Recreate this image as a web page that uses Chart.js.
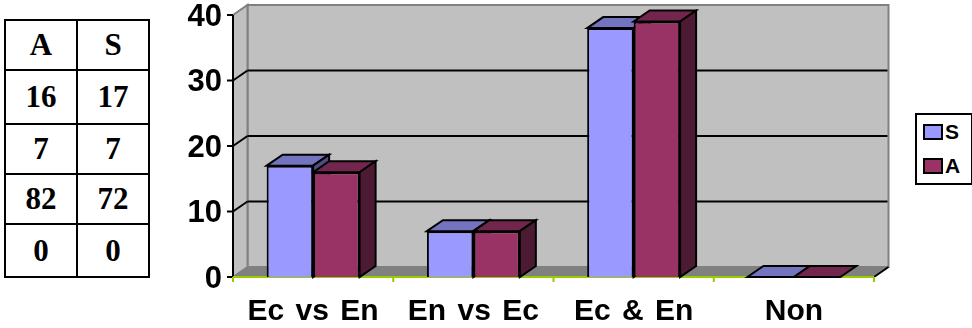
<!DOCTYPE html>
<html>
<head>
<meta charset="utf-8">
<title>Ec / En</title>
<script src="https://cdn.jsdelivr.net/npm/chart.js@4/dist/chart.umd.min.js"></script>
<style>
    html, body { margin: 0; padding: 0; background: #fff; }
    #wrap { position: relative; width: 972px; height: 328px; overflow: hidden; }
    #chart { position: absolute; left: 0; top: 0; }

    #counts {
        position: absolute; left: 4px; top: 19px; width: 146px; height: 259px;
        border-collapse: collapse; table-layout: fixed;
        font: bold 31px "Liberation Serif", serif; text-align: center;
    }
    #counts td { border: 2px solid #000; padding: 0; }

    #legend {
        position: absolute; left: 915px; top: 113px; width: 54px; height: 68px;
        border: 2px solid #000; background: #fff;
        font: bold 21px "Liberation Sans", sans-serif;
    }
    #legend div { position: absolute; left: 6px; height: 24px; line-height: 21px; padding-left: 22px; }
    #legend i { position: absolute; left: 0; top: 3px; width: 16px; height: 12px; border: 2px solid #000; }
</style>
</head>
<body>
<div id="wrap">
    <table id="counts"></table>
    <canvas id="chart" width="972" height="328"></canvas>
    <div id="legend"></div>
</div>
<script>
const categories = ['Ec vs En', 'En vs Ec', 'Ec & En', 'Non'];
const seriesS = [17, 7, 38, 0];
const seriesA = [16, 7, 39, 0];

const tableHead = ['A', 'S'];
const tableA = [16, 7, 82, 0];
const tableS = [17, 7, 72, 0];

const FONT = '"Liberation Sans", sans-serif';

// how far the back wall and the bar tops are pushed away from the front plane
const WALL_DX = 14.5, WALL_DY = 10;
const BAR_DX = 16, BAR_DY = 11;

const faces = [
    { front: '#9999ff', top: '#7373bf', side: '#4d4d80' },
    { front: '#993366', top: '#73264d', side: '#4c1a33' }
];

function poly(ctx, pts, fill, stroke, lw) {
    ctx.beginPath();
    pts.forEach((p, i) => i ? ctx.lineTo(p[0], p[1]) : ctx.moveTo(p[0], p[1]));
    ctx.closePath();
    if (fill) { ctx.fillStyle = fill; ctx.fill(); }
    if (stroke) { ctx.strokeStyle = stroke; ctx.lineWidth = lw || 2; ctx.stroke(); }
}

function line(ctx, x1, y1, x2, y2, color, lw) {
    ctx.beginPath();
    ctx.moveTo(x1, y1);
    ctx.lineTo(x2, y2);
    ctx.strokeStyle = color;
    ctx.lineWidth = lw || 2;
    ctx.stroke();
}

// walls, floor, gridlines and the depth faces of the bars
const box3d = {
    id: 'box3d',
    beforeDraw(chart) {
        // wider gaps between the words of the category labels
        chart.ctx.wordSpacing = '3px';
    },
    beforeDatasetsDraw(chart) {
        const ctx = chart.ctx;
        const { left, right, top, bottom } = chart.chartArea;
        const y = chart.scales.y;
        const dx = WALL_DX, dy = WALL_DY;

        ctx.save();
        ctx.lineJoin = 'miter';

        poly(ctx, [[left + dx, top - dy], [right + dx, top - dy], [right + dx, bottom - dy], [left + dx, bottom - dy]], '#c0c0c0', '#808080', 2);
        poly(ctx, [[left, top], [left + dx, top - dy], [left + dx, bottom - dy], [left, bottom]], '#c0c0c0', '#808080', 2);
        poly(ctx, [[left, bottom], [left + dx, bottom - dy], [right + dx, bottom - dy], [right, bottom]], '#808080');

        y.ticks.forEach(t => {
            const py = y.getPixelForValue(t.value);
            if (t.value > y.min && t.value < y.max) {
                line(ctx, left, py, left + dx, py - dy, '#000');
                line(ctx, left + dx, py - dy, right + dx - 1, py - dy, '#000');
            }
            line(ctx, left - 6, py, left, py, '#000');
        });

        line(ctx, right, bottom, right + dx, bottom - dy, '#000');
        line(ctx, left, top, left, bottom, '#000');

        // category axis with its marks between the groups
        line(ctx, left, bottom, right, bottom, '#99cc00');
        for (let i = 0; i <= categories.length; i++) {
            const px = left + (right - left) * i / categories.length;
            line(ctx, px, bottom, px, bottom + 5, '#99cc00');
        }

        chart.data.datasets.forEach((ds, d) => {
            chart.getDatasetMeta(d).data.forEach(bar => {
                const l = bar.x - bar.width / 2, r = bar.x + bar.width / 2;
                const t = bar.y, b = bar.base;
                poly(ctx, [[l, t], [l + BAR_DX, t - BAR_DY], [r + BAR_DX, t - BAR_DY], [r, t]], faces[d].top, '#000', 2);
                if (b - t > 0) {
                    poly(ctx, [[r, t], [r + BAR_DX, t - BAR_DY], [r + BAR_DX, b - BAR_DY], [r, b]], faces[d].side, '#000', 2);
                }
            });
        });
        ctx.restore();
    }
};

const chart = new Chart(document.getElementById('chart'), {
    type: 'bar',
    data: {
        labels: categories,
        datasets: [
            { label: 'S', data: seriesS, backgroundColor: faces[0].front, borderColor: '#000', borderWidth: 2 },
            { label: 'A', data: seriesA, backgroundColor: faces[1].front, borderColor: '#000', borderWidth: 2 }
        ]
    },
    options: {
        responsive: false,
        animation: false,
        layout: { padding: { left: 0, right: 98, top: 15, bottom: 0 } },
        datasets: { bar: { categoryPercentage: 0.58, barPercentage: 1 } },
        plugins: { legend: { display: false }, tooltip: { enabled: false } },
        scales: {
            x: {
                grid: { display: false, drawTicks: false },
                border: { display: false },
                ticks: { color: '#000', padding: 17, maxRotation: 0, autoSkip: false, font: { family: FONT, weight: 'bold', size: 30 } },
                afterFit: s => { s.height = 51; s.paddingLeft = 0; s.paddingRight = 0; }
            },
            y: {
                min: 0,
                max: 40,
                grid: { display: false, drawTicks: false },
                border: { display: false },
                ticks: { color: '#000', stepSize: 10, padding: 11, labelOffset: 2, font: { family: FONT, weight: 'bold', size: 31 } },
                afterFit: s => { s.width = 233; s.paddingTop = 0; s.paddingBottom = 0; }
            }
        }
    },
    plugins: [box3d]
});

// small table on the left
const counts = document.getElementById('counts');
const rowHeights = [50, 54, 50, 50, 53];
[tableHead].concat(tableA.map((v, i) => [v, tableS[i]])).forEach((row, r) => {
    const tr = counts.insertRow();
    tr.style.height = rowHeights[r] + 'px';
    row.forEach(v => { tr.insertCell().textContent = v; });
});

// legend box built from the datasets
const legend = document.getElementById('legend');
chart.data.datasets.forEach((ds, i) => {
    const item = document.createElement('div');
    item.style.top = (i ? 40 : 6) + 'px';
    item.textContent = ds.label;
    const swatch = document.createElement('i');
    swatch.style.background = ds.backgroundColor;
    item.appendChild(swatch);
    legend.appendChild(item);
});
</script>
</body>
</html>
